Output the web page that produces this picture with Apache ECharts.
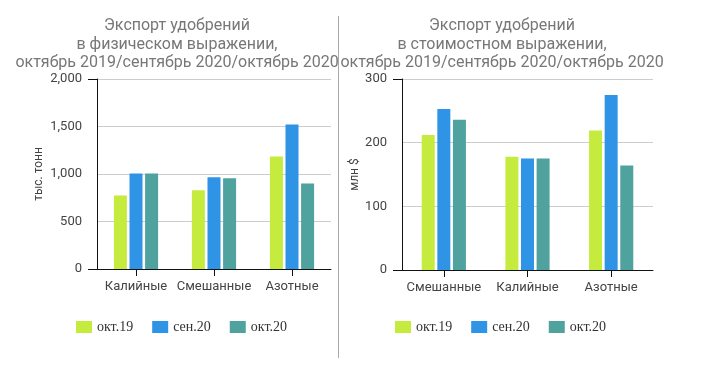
<!DOCTYPE html>
<html>
<head>
<meta charset="utf-8">
<script src="https://cdn.jsdelivr.net/npm/echarts@6/dist/echarts.min.js"></script>
<style>html,body{margin:0;padding:0;background:#fff}#c{width:718px;height:372px}</style>
</head>
<body>
<div id="c"></div>
<script>
// Data
const seriesNames = ['окт.19', 'сен.20', 'окт.20'];
const leftCategories = ['Калийные', 'Смешанные', 'Азотные'];
const leftOct19 = [775, 830, 1185];
const leftSep20 = [1005, 965, 1520];
const leftOct20 = [1005, 955, 900];
const rightCategories = ['Смешанные', 'Калийные', 'Азотные'];
const rightOct19 = [212, 178, 219];
const rightSep20 = [253, 175, 275];
const rightOct20 = [236, 175, 164];
const leftTitle = 'Экспорт удобрений\nв физическом выражении,\nоктябрь 2019/сентябрь 2020/октябрь 2020';
const rightTitle = 'Экспорт удобрений\nв стоимостном выражении,\nоктябрь 2019/сентябрь 2020/октябрь 2020';
const leftAxisName = 'тыс. тонн';
const rightAxisName = 'млн $';

const colors = ['#c4eb3e', '#2f93e6', '#4fa29e'];
const font = 'Roboto';

const chart = echarts.init(document.getElementById('c'), null, {renderer: 'canvas'});

function mainY(grid, max, interval, name, gap) {
  return {
    type: 'value', gridIndex: grid, min: 0, max: max, interval: interval,
    name: name, nameLocation: 'middle', nameGap: gap, nameRotate: 90,
    nameTextStyle: {color: '#444', fontSize: 12, fontFamily: font},
    axisLine: {show: true, lineStyle: {color: '#111', width: 1}},
    axisTick: {show: false},
    axisLabel: {color: '#444', fontSize: 13, fontFamily: font, margin: 15,
      formatter: v => v.toLocaleString('en-US')},
    splitLine: {show: true, lineStyle: {color: '#ccc', width: 1}}
  };
}
function tickY(grid, max) {
  return {
    type: 'value', gridIndex: grid, min: 0, max: max, interval: max, position: 'left',
    axisLine: {show: false}, axisLabel: {show: false}, splitLine: {show: false},
    axisTick: {show: true, length: 9, lineStyle: {color: '#111', width: 1}}
  };
}
function xAx(grid, cats) {
  return {
    type: 'category', gridIndex: grid, data: cats,
    axisLine: {show: true, lineStyle: {color: '#111', width: 1}},
    axisTick: {show: true, alignWithLabel: true, length: 7, lineStyle: {color: '#111'}},
    axisLabel: {color: '#444', fontSize: 13, fontFamily: font, margin: 11, interval: 0}
  };
}
function bars(xi, yi, arrs) {
  return arrs.map((d, i) => ({
    type: 'bar', name: seriesNames[i], xAxisIndex: xi, yAxisIndex: yi, data: d,
    barWidth: 13, barGap: '20%', itemStyle: {color: colors[i]}, animation: false
  }));
}

chart.setOption({
  animation: false,
  color: colors,
  title: [
    {text: leftTitle, left: 172, top: 12, textAlign: 'center',
      textStyle: {color: '#777', fontSize: 16, fontWeight: 'normal', fontFamily: font, lineHeight: 18.5}},
    {text: rightTitle, left: 497, top: 12, textAlign: 'center',
      textStyle: {color: '#777', fontSize: 16, fontWeight: 'normal', fontFamily: font, lineHeight: 18.5}}
  ],
  legend: [
    {data: seriesNames, left: 71, top: 315, itemWidth: 16, itemHeight: 12, itemGap: 19,
      icon: 'rect', textStyle: {color: '#333', fontSize: 14, fontFamily: 'Liberation Serif'}},
    {data: seriesNames, left: 390, top: 315, itemWidth: 16, itemHeight: 12, itemGap: 19,
      icon: 'rect', textStyle: {color: '#333', fontSize: 14, fontFamily: 'Liberation Serif'}}
  ],
  grid: [
    {left: 97, right: 387, top: 79, bottom: 103},
    {left: 402, right: 65, top: 79, bottom: 102}
  ],
  xAxis: [xAx(0, leftCategories), xAx(1, rightCategories)],
  yAxis: [mainY(0, 2000, 500, leftAxisName, 52), tickY(0, 2000),
          mainY(1, 300, 100, rightAxisName, 40), tickY(1, 300)],
  series: [].concat(
    bars(0, 0, [leftOct19, leftSep20, leftOct20]),
    bars(1, 2, [rightOct19, rightSep20, rightOct20])
  ),
  graphic: [
    {type: 'line', shape: {x1: 338.5, y1: 16, x2: 338.5, y2: 358},
      style: {stroke: '#aaa', lineWidth: 1}, silent: true}
  ]
});
</script>
</body>
</html>
